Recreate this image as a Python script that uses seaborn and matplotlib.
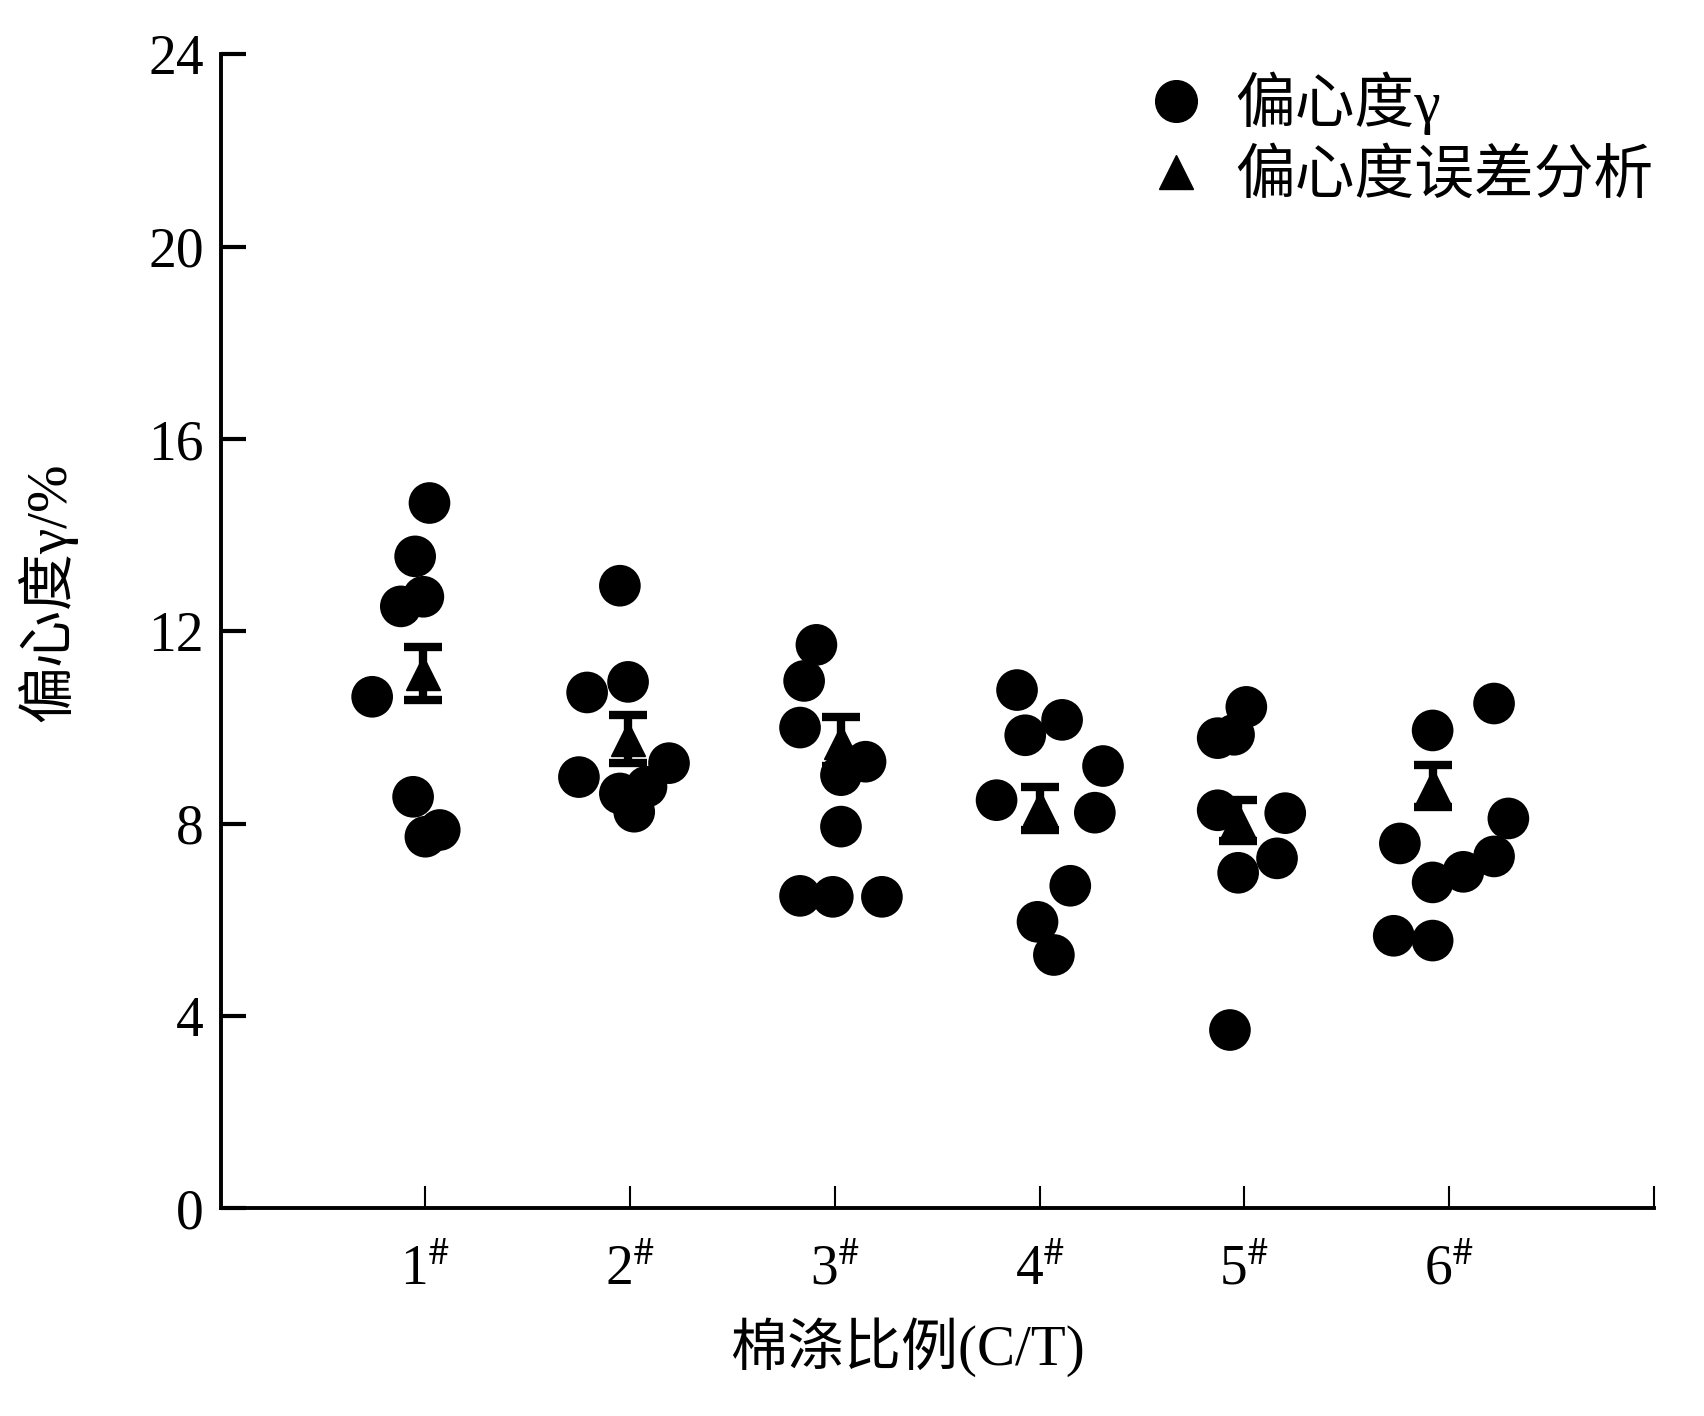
import numpy as np
import pandas as pd
import seaborn as sns
import matplotlib.pyplot as plt
from matplotlib.lines import Line2D

# sample labels
samples = ["1#", "2#", "3#", "4#", "5#", "6#"]
tick_labels = [r"1$^{\#}$", r"2$^{\#}$", r"3$^{\#}$", r"4$^{\#}$", r"5$^{\#}$", r"6$^{\#}$"]

g1_x = [0.74, 0.88, 0.99, 0.95, 1.02, 0.94, 1.00, 1.07]
g1_y = [10.64, 12.52, 12.72, 13.56, 14.67, 8.56, 7.73, 7.87]
g2_x = [1.95, 1.99, 1.79, 1.75, 2.19, 1.95, 2.02, 2.08]
g2_y = [12.95, 10.95, 10.73, 8.97, 9.26, 8.63, 8.25, 8.77]
g3_x = [2.91, 2.85, 2.83, 3.15, 3.03, 3.03, 2.83, 2.99, 3.23]
g3_y = [11.72, 10.97, 10.00, 9.29, 9.01, 7.94, 6.50, 6.48, 6.48]
g4_x = [3.89, 4.11, 3.93, 4.31, 3.79, 4.27, 4.15, 3.99, 4.07]
g4_y = [10.78, 10.16, 9.84, 9.20, 8.49, 8.23, 6.71, 5.96, 5.27]
g5_x = [5.01, 4.87, 4.95, 4.87, 5.20, 5.16, 4.97, 4.93]
g5_y = [10.43, 9.78, 9.85, 8.28, 8.22, 7.28, 6.98, 3.71]
g6_x = [6.22, 5.92, 6.29, 6.22, 6.07, 5.92, 5.76, 5.73, 5.92]
g6_y = [10.50, 9.94, 8.11, 7.32, 7.00, 6.78, 7.59, 5.67, 5.57]

# error analysis (mean +/- error)
mean_x = [0.99, 1.99, 3.03, 4.00, 4.97, 5.92]
mean_y = [11.13, 9.76, 9.71, 8.32, 8.07, 8.78]
mean_err = [0.55, 0.50, 0.50, 0.45, 0.42, 0.44]

all_x = [g1_x, g2_x, g3_x, g4_x, g5_x, g6_x]
all_y = [g1_y, g2_y, g3_y, g4_y, g5_y, g6_y]
rows = []
for s, xs, ys in zip(samples, all_x, all_y):
    for xv, yv in zip(xs, ys):
        rows.append({"sample": s, "x": xv, "y": yv})
df = pd.DataFrame(rows)

sns.set_style("ticks")
plt.rcParams["font.family"] = ["Liberation Serif", "Noto Sans CJK SC"]
plt.rcParams["mathtext.fontset"] = "stix"
plt.rcParams["text.color"] = "black"
plt.rcParams["axes.labelcolor"] = "black"
plt.rcParams["xtick.color"] = "black"
plt.rcParams["ytick.color"] = "black"
plt.rcParams["axes.edgecolor"] = "black"

fig = plt.figure(figsize=(17.04, 14.16), dpi=100)
ax = fig.add_axes([0.1295, 0.1466, 0.841, 0.815])

sns.scatterplot(data=df, x="x", y="y", ax=ax, color="black", s=900,
                edgecolor="none", legend=False, zorder=3)
ax.errorbar(mean_x, mean_y, yerr=mean_err, fmt="^", color="black", ms=24,
            elinewidth=6, capsize=14, capthick=6, zorder=4)

ax.set_xlim(0, 7)
ax.set_ylim(0, 24)
ax.set_xticks([1, 2, 3, 4, 5, 6, 7])
ax.set_xticklabels(tick_labels + [""])
ax.set_yticks([0, 4, 8, 12, 16, 20, 24])

for side in ["top", "right"]:
    ax.spines[side].set_visible(False)
for side in ["left", "bottom"]:
    ax.spines[side].set_linewidth(2.8)

ax.tick_params(axis="y", direction="in", length=18, width=3, labelsize=40, pad=12)
ax.tick_params(axis="x", direction="in", length=16, width=1.5, labelsize=40, pad=26)

ax.set_xlabel("棉涤比例(C/T)", fontsize=41)
ax.set_ylabel("偏心度γ/%", fontsize=41)
ax.xaxis.set_label_coords(0.479, -0.094)
ax.yaxis.set_label_coords(-0.100, 0.534)

handles = [
    Line2D([], [], marker="o", color="black", linestyle="none", markersize=30),
    Line2D([], [], marker="^", color="black", linestyle="none", markersize=24),
]
ax.legend(handles, ["偏心度γ", "偏心度误差分析"], loc="upper right",
          frameon=False, fontsize=43, handletextpad=0.3, labelspacing=0.25,
          borderaxespad=0, borderpad=0, handlelength=1.4,
          bbox_to_anchor=(1.0, 0.985))

fig.savefig("out.png", dpi=100)
